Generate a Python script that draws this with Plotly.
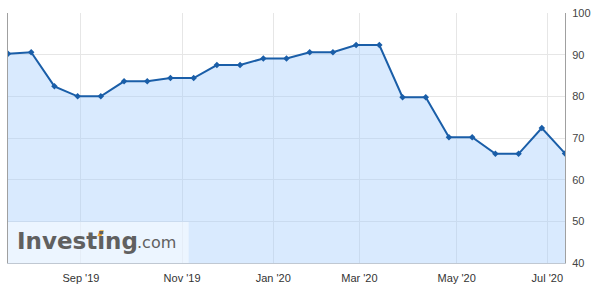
import numpy as np
import pandas as pd
import plotly.graph_objects as go

# Release dates (ordinal, evenly spaced on chart)
dates = ["2019-07-12", "2019-07-26", "2019-08-16", "2019-08-30", "2019-09-13",
         "2019-09-27", "2019-10-11", "2019-10-25", "2019-11-08", "2019-11-22",
         "2019-12-06", "2019-12-20", "2020-01-17", "2020-01-31", "2020-02-14",
         "2020-02-28", "2020-03-13", "2020-03-27", "2020-04-09", "2020-04-24",
         "2020-05-15", "2020-05-29", "2020-06-12", "2020-06-26", "2020-07-17"]
values = [90.2, 90.6, 82.4, 80.0, 80.0, 83.6, 83.6, 84.4, 84.4, 87.5,
          87.5, 89.1, 89.1, 90.6, 90.6, 92.3, 92.3, 79.8, 79.8, 70.2,
          70.2, 66.2, 66.2, 72.4, 66.3]
tick_dates = ["2019-09-01", "2019-11-01", "2020-01-01", "2020-03-01", "2020-05-01", "2020-07-01"]
tick_labels = ["Sep '19", "Nov '19", "Jan '20", "Mar '20", "May '20", "Jul '20"]
y_ticks = [40, 50, 60, 70, 80, 90, 100]

idx = np.arange(len(dates))
d_num = pd.to_datetime(dates).map(pd.Timestamp.toordinal).to_numpy()
t_num = pd.to_datetime(tick_dates).map(pd.Timestamp.toordinal).to_numpy()
tick_pos = np.interp(t_num, d_num, idx)

fig = go.Figure()
fig.add_trace(go.Scatter(
    x=idx, y=values, mode="lines+markers",
    line=dict(color="#1a5ea8", width=2),
    marker=dict(symbol="diamond", size=5, color="#1a5ea8"),
    fill="tozeroy", fillcolor="rgba(165,206,252,0.42)",
    hovertext=dates, hoverinfo="text+y",
))

L, R, T, B = 7, 35, 7, 35
W, H = 600, 298
pw = W - L - R
ph = H - T - B

def px_x(p):
    return (p - L) / pw

def px_y(p):
    return (H - B - p) / ph

fig.update_layout(
    width=W, height=H,
    margin=dict(l=L, r=R, t=T, b=B, pad=0),
    paper_bgcolor="white", plot_bgcolor="white",
    showlegend=False,
    font=dict(family="Liberation Sans, Arial, sans-serif", size=11, color="#333333"),
    xaxis=dict(
        range=[0, len(dates) - 1],
        tickmode="array", tickvals=tick_pos, ticktext=tick_labels,
        showgrid=True, gridcolor="#e6e6e6", gridwidth=1,
        zeroline=False, showline=True, linecolor="#c0c8d2", linewidth=1,
        ticks="outside", ticklen=5, tickcolor="rgba(0,0,0,0)",
    ),
    yaxis=dict(
        range=[40, 100], side="right",
        tickmode="array", tickvals=y_ticks,
        showgrid=True, gridcolor="#e6e6e6", gridwidth=1,
        zeroline=False, showline=True, mirror=True, linecolor="#a0a0a0", linewidth=1,
        ticks="outside", ticklen=4, tickcolor="rgba(0,0,0,0)",
        tickfont=dict(color="#444444"),
    ),
    shapes=[
        dict(type="rect", xref="paper", yref="paper",
             x0=0, x1=px_x(188), y0=0, y1=px_y(221),
             fillcolor="rgba(255,255,255,0.5)", line=dict(width=0), layer="above"),
    ],
    annotations=[
        dict(text="<b>Investing</b>", xref="paper", yref="paper",
             x=px_x(14), y=px_y(240), xanchor="left", yanchor="middle",
             showarrow=False,
             font=dict(family="DejaVu Sans", size=23, color="#606060")),
        dict(text=".com", xref="paper", yref="paper",
             x=px_x(134), y=px_y(242), xanchor="left", yanchor="middle",
             showarrow=False,
             font=dict(family="DejaVu Sans", size=16, color="#606060")),
    ],
)
fig.add_shape(type="path", xref="paper", yref="paper",
              path="M {} {} L {} {} L {} {} L {} {} Z".format(
                  px_x(96.5), px_y(235.5), px_x(99), px_y(229.5),
                  px_x(103), px_y(229.5), px_x(100.5), px_y(235.5)),
              fillcolor="#f5a623", line=dict(width=0), layer="above")

fig.write_html("out.html")
